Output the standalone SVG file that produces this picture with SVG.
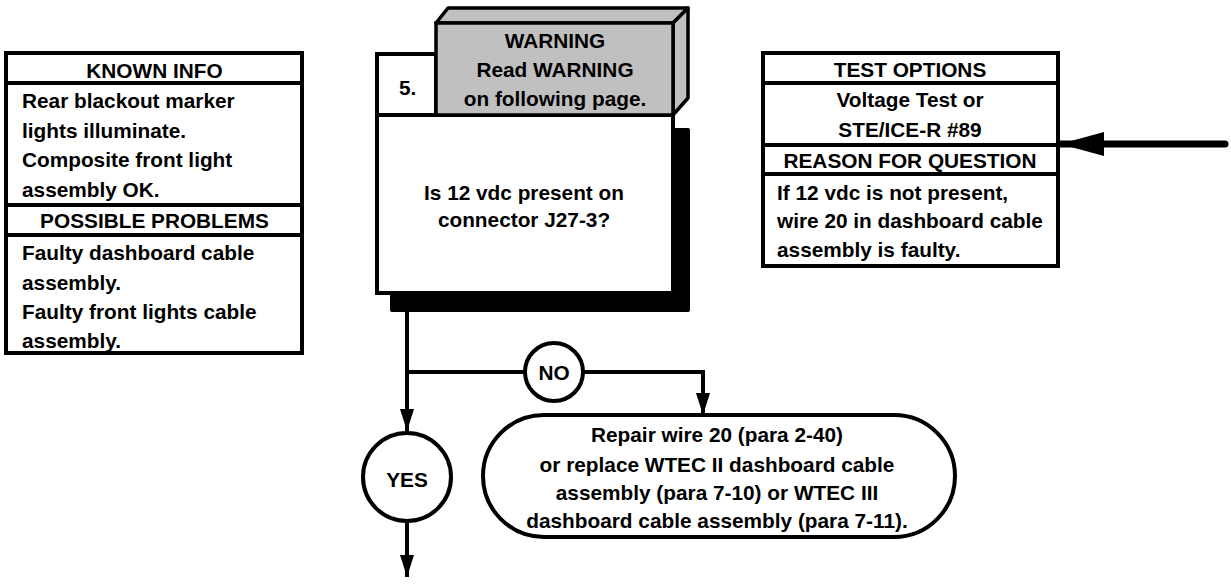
<svg xmlns="http://www.w3.org/2000/svg" width="1231" height="586" viewBox="0 0 1231 586">
<style>
text{font-family:"Liberation Sans",Arial,sans-serif;font-weight:bold;font-size:20.8px;fill:#000}
.c{text-anchor:middle}
.box{fill:#fff;stroke:#000;stroke-width:4}
.ln{stroke:#000;stroke-width:4;fill:none}
.con{stroke:#000;stroke-width:4;fill:none}
</style>
<defs>
<marker id="ah" markerUnits="userSpaceOnUse" markerWidth="24" markerHeight="14" refX="22" refY="7" orient="auto">
<path d="M0,0 L22,7 L0,14 Z" fill="#000"/>
</marker>
<marker id="ahBig" markerUnits="userSpaceOnUse" markerWidth="46" markerHeight="24" refX="44" refY="12" orient="auto">
<path d="M0,0 L44,12 L0,24 Z" fill="#000"/>
</marker>
</defs>
<g id="known-info">
<rect class="box" x="6" y="53" width="296" height="300"/>
<line class="ln" x1="6" y1="83" x2="302" y2="83"/>
<line class="ln" x1="6" y1="205" x2="302" y2="205"/>
<line class="ln" x1="6" y1="235" x2="302" y2="235"/>
<text class="c" x="154.5" y="78">KNOWN INFO</text>
<text x="22" y="108">Rear blackout marker</text>
<text x="22" y="137.5">lights illuminate.</text>
<text x="22" y="167">Composite front light</text>
<text x="22" y="197">assembly OK.</text>
<text class="c" x="154.5" y="228">POSSIBLE PROBLEMS</text>
<text x="22" y="260">Faulty dashboard cable</text>
<text x="22" y="290">assembly.</text>
<text x="22" y="318.5">Faulty front lights cable</text>
<text x="22" y="348">assembly.</text>
</g>
<g id="step5">
<rect x="390" y="128" width="300" height="184" rx="2" fill="#000"/>
<rect class="box" x="377" y="115" width="296" height="178" stroke-width="3.5"/>
<rect class="box" x="377" y="54" width="59" height="61" stroke-width="3.5"/>
<text x="399" y="95">5.</text>
<text class="c" x="524" y="200">Is 12 vdc present on</text>
<text class="c" x="524" y="227">connector J27-3?</text>
</g>
<g id="warning">
<polygon points="436,23 448,8 688,8 673,23" fill="#c0c0c0" stroke="#000" stroke-width="3.5" stroke-linejoin="round"/>
<polygon points="673,23 688,8 688,98 673,115" fill="#c0c0c0" stroke="#000" stroke-width="3.5" stroke-linejoin="round"/>
<rect x="436" y="23" width="237" height="92" fill="#c0c0c0" stroke="#000" stroke-width="3.5"/>
<text class="c" x="555" y="48">WARNING</text>
<text class="c" x="555" y="77">Read WARNING</text>
<text class="c" x="555" y="106">on following page.</text>
</g>
<g id="test-options">
<rect class="box" x="763" y="53" width="295" height="213"/>
<line class="ln" x1="763" y1="83" x2="1058" y2="83"/>
<line class="ln" x1="763" y1="145" x2="1058" y2="145"/>
<line class="ln" x1="763" y1="174" x2="1058" y2="174"/>
<text class="c" x="910" y="77">TEST OPTIONS</text>
<text class="c" x="910" y="107">Voltage Test or</text>
<text class="c" x="910" y="137">STE/ICE-R #89</text>
<text class="c" x="910" y="168">REASON FOR QUESTION</text>
<text x="777" y="200">If 12 vdc is not present,</text>
<text x="777" y="228">wire 20 in dashboard cable</text>
<text x="777" y="257">assembly is faulty.</text>
</g>
<g id="no">
<circle cx="554" cy="372" r="29" fill="#fff" stroke="#000" stroke-width="4"/>
<text class="c" x="554" y="380">NO</text>
</g>
<g id="yes">
<circle cx="407" cy="477" r="44" fill="#fff" stroke="#000" stroke-width="4"/>
<text class="c" x="407" y="487">YES</text>
</g>
<g id="repair">
<rect class="box" x="483" y="415" width="472" height="122" rx="61"/>
<text class="c" x="717" y="442">Repair wire 20 (para 2-40)</text>
<text class="c" x="717" y="472">or replace WTEC II dashboard cable</text>
<text class="c" x="717" y="500">assembly (para 7-10) or WTEC III</text>
<text class="c" x="717" y="528">dashboard cable assembly (para 7-11).</text>
</g>
<g id="connectors">
<line class="con" x1="407" y1="312" x2="407" y2="431" marker-end="url(#ah)"/>
<line class="con" x1="405" y1="372" x2="525" y2="372"/>
<polyline class="con" points="583,372 703,372 703,415" marker-end="url(#ah)"/>
<line class="con" x1="407" y1="521" x2="407" y2="577" marker-end="url(#ah)"/>
<line x1="1225" y1="144" x2="1060" y2="144" stroke="#000" stroke-width="7" stroke-linecap="round" marker-end="url(#ahBig)"/>
</g>
</svg>
